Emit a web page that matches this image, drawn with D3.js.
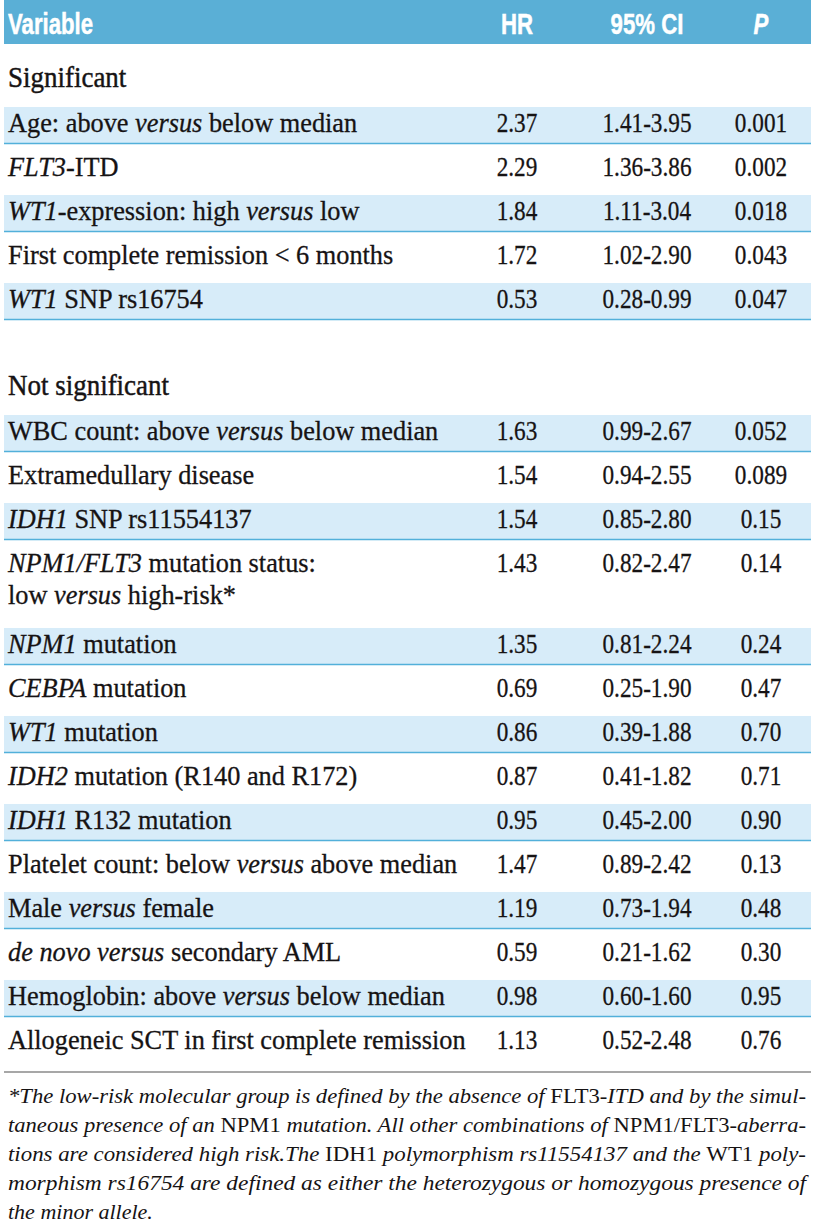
<!DOCTYPE html>
<html><head><meta charset="utf-8">
<script src="https://cdn.jsdelivr.net/npm/d3@7"></script>
<style>html,body{margin:0;padding:0;background:#fff}</style>
</head><body>
<svg id="t" width="815" height="1224"></svg>
<script>
// ---------- data ----------
const columns = ["Variable", "HR", "95% CI", "P"];
const sections = ["Significant", "Not significant"];
const sectionOf = [0,0,0,0,0, 1,1,1,1,1,1,1,1,1,1,1,1,1,1];
const variables = [
  "Age: above *versus* below median",
  "*FLT3*-ITD",
  "*WT1*-expression: high *versus* low",
  "First complete remission < 6 months",
  "*WT1* SNP rs16754",
  "WBC count: above *versus* below median",
  "Extramedullary disease",
  "*IDH1* SNP rs11554137",
  "*NPM1/FLT3* mutation status:\nlow *versus* high-risk",
  "*NPM1* mutation",
  "*CEBPA* mutation",
  "*WT1* mutation",
  "*IDH2* mutation (R140 and R172)",
  "*IDH1* R132 mutation",
  "Platelet count: below *versus* above median",
  "Male *versus* female",
  "*de novo versus* secondary AML",
  "Hemoglobin: above *versus* below median",
  "Allogeneic SCT in first complete remission"
];
const hr = ["2.37","2.29","1.84","1.72","0.53","1.63","1.54","1.54","1.43","1.35","0.69","0.86","0.87","0.95","1.47","1.19","0.59","0.98","1.13"];
const ci = ["1.41-3.95","1.36-3.86","1.11-3.04","1.02-2.90","0.28-0.99","0.99-2.67","0.94-2.55","0.85-2.80","0.82-2.47","0.81-2.24","0.25-1.90","0.39-1.88","0.41-1.82","0.45-2.00","0.89-2.42","0.73-1.94","0.21-1.62","0.60-1.60","0.52-2.48"];
const pvals = ["0.001","0.002","0.018","0.043","0.047","0.052","0.089","0.15","0.14","0.24","0.47","0.70","0.71","0.90","0.13","0.48","0.30","0.95","0.76"];
// footnote: ~text~ = upright, rest italic
const footnote = [
  "*The low-risk molecular group is defined by the absence of ~FLT3-~ITD and by the simul-",
  "taneous presence of an ~NPM1~ mutation. All other combinations of ~NPM1/FLT3~-aberra-",
  "tions are considered high risk.The ~IDH1~ polymorphism rs11554137 and the ~WT1~ poly-",
  "morphism rs16754 are defined as either the heterozygous or homozygous presence of",
  "the minor allele."
];

// ---------- layout ----------
const left = 4, right = 811, textX = 8;
const SERIF = '"Liberation Serif", "Times New Roman", serif';
const SANS = '"Liberation Sans", Arial, sans-serif';
const ink = "#161314";
const headBlue = "#5aafd6", rowBlue = "#d7ecf9", lineBlue = "#52b0da";

const svg = d3.select("#t");
const xCol = d3.scaleOrdinal().domain(columns).range([textX, 517, 647, 761]);
const y = d3.scaleLinear().domain([0, 1]).range([132, 176]); // row slot -> baseline
const wrapExtra = 0.84;

// compute slots
let slot = 0, rows = [], heads = [];
sections.forEach((s, si) => {
  if (si > 0) slot += 2;
  heads.push({ name: s, slot: slot - 1.02 });
  let k = 0;
  variables.forEach((v, i) => {
    if (sectionOf[i] !== si) return;
    const lines = v.split("\n");
    rows.push({ i, lines, slot, shaded: k % 2 === 0 });
    slot += 1 + (lines.length - 1) * wrapExtra;
    k++;
  });
});
const lastRow = rows[rows.length - 1];

// header
svg.append("rect").attr("x", left).attr("y", 0).attr("width", right - left).attr("height", 44).attr("fill", headBlue);
columns.forEach((c, j) => {
  svg.append("text").style("font-family", SANS)
    .attr("transform", `translate(${xCol(c)},34) scale(0.74,1)`)
    .attr("text-anchor", j === 0 ? "start" : "middle")
    .attr("font-weight", "bold").attr("font-size", 30)
    .attr("font-style", c === "P" ? "italic" : "normal")
    .attr("fill", "#fff").attr("stroke", "#fff").attr("stroke-width", 0.5).text(c);
});

// row bands
rows.filter(r => r.shaded).forEach(r => {
  const yb = y(r.slot);
  svg.append("rect").attr("x", left).attr("y", yb - 25).attr("width", right - left).attr("height", 36).attr("fill", rowBlue);
  svg.append("line").attr("x1", left).attr("x2", right).attr("y1", yb + 11.5).attr("y2", yb + 11.5)
    .attr("stroke", lineBlue).attr("stroke-width", 1.6);
});

// section headings
heads.forEach(h => {
  svg.append("text").style("font-family", SERIF)
    .attr("transform", `translate(${textX},${y(h.slot)}) scale(0.93,1)`)
    .attr("font-size", 29).attr("fill", ink).attr("stroke", ink).attr("stroke-width", 0.45).text(h.name);
});

function rich(sel, str, markChar, markStyle, baseStyle) {
  str.split(markChar).forEach((p, j) => {
    if (!p) return;
    sel.append("tspan").attr("font-style", j % 2 === 1 ? markStyle : baseStyle).text(p);
  });
}

// rows text
rows.forEach(r => {
  const yb = y(r.slot);
  r.lines.forEach((ln, li) => {
    const t = svg.append("text").style("font-family", SERIF)
      .attr("transform", `translate(${textX},${yb + li * 32}) scale(0.94,1)`)
      .attr("font-size", 28).attr("fill", ink).attr("stroke", ink).attr("stroke-width", 0.3)
      .attr("xml:space", "preserve");
    rich(t, ln, "*", "italic", "normal");
    if (li === r.lines.length - 1 && r.lines.length > 1) t.append("tspan").text("*");
  });
  [[hr, "HR"], [ci, "95% CI"], [pvals, "P"]].forEach(([arr, col]) => {
    svg.append("text").style("font-family", SERIF)
      .attr("transform", `translate(${xCol(col)},${yb}) scale(0.83,1)`)
      .attr("text-anchor", "middle")
      .attr("font-size", 28).attr("fill", ink).attr("stroke", ink).attr("stroke-width", 0.3)
      .text(arr[r.i]);
  });
});

// footnote
const divY = y(lastRow.slot) + 23;
svg.append("line").attr("x1", left).attr("x2", right).attr("y1", divY).attr("y2", divY)
  .attr("stroke", "#8a8a8a").attr("stroke-width", 1.6);
footnote.forEach((ln, k) => {
  const t = svg.append("text").style("font-family", SERIF).attr("x", textX).attr("y", divY + 31 + k * 29)
    .attr("font-size", 22).attr("fill", ink).attr("xml:space", "preserve");
  rich(t, ln, "~", "normal", "italic");
  if (k < footnote.length - 1) t.attr("textLength", 798).attr("lengthAdjust", "spacingAndGlyphs");
});
</script>
</body></html>
